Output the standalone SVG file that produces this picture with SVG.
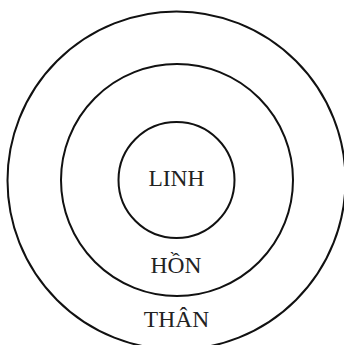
<svg xmlns="http://www.w3.org/2000/svg" width="344" height="345" viewBox="0 0 344 345">
<style>
.ring{fill:none;stroke:#111;stroke-width:2}
.lbl{font-family:"Liberation Serif","Times New Roman",serif;font-size:23.5px;fill:#222;text-anchor:middle}
</style>
<rect width="344" height="345" fill="#fff"/>
<g id="than"><circle class="ring" cx="176.5" cy="180.5" r="169"/><text class="lbl" x="176.5" y="327">THÂN</text></g>
<g id="hon"><circle class="ring" cx="177" cy="180" r="116"/><text class="lbl" x="176" y="273">HỒN</text></g>
<g id="linh"><circle class="ring" cx="176.5" cy="180" r="58"/><text class="lbl" x="176.5" y="186">LINH</text></g>
<g id="connectors"/>
</svg>
